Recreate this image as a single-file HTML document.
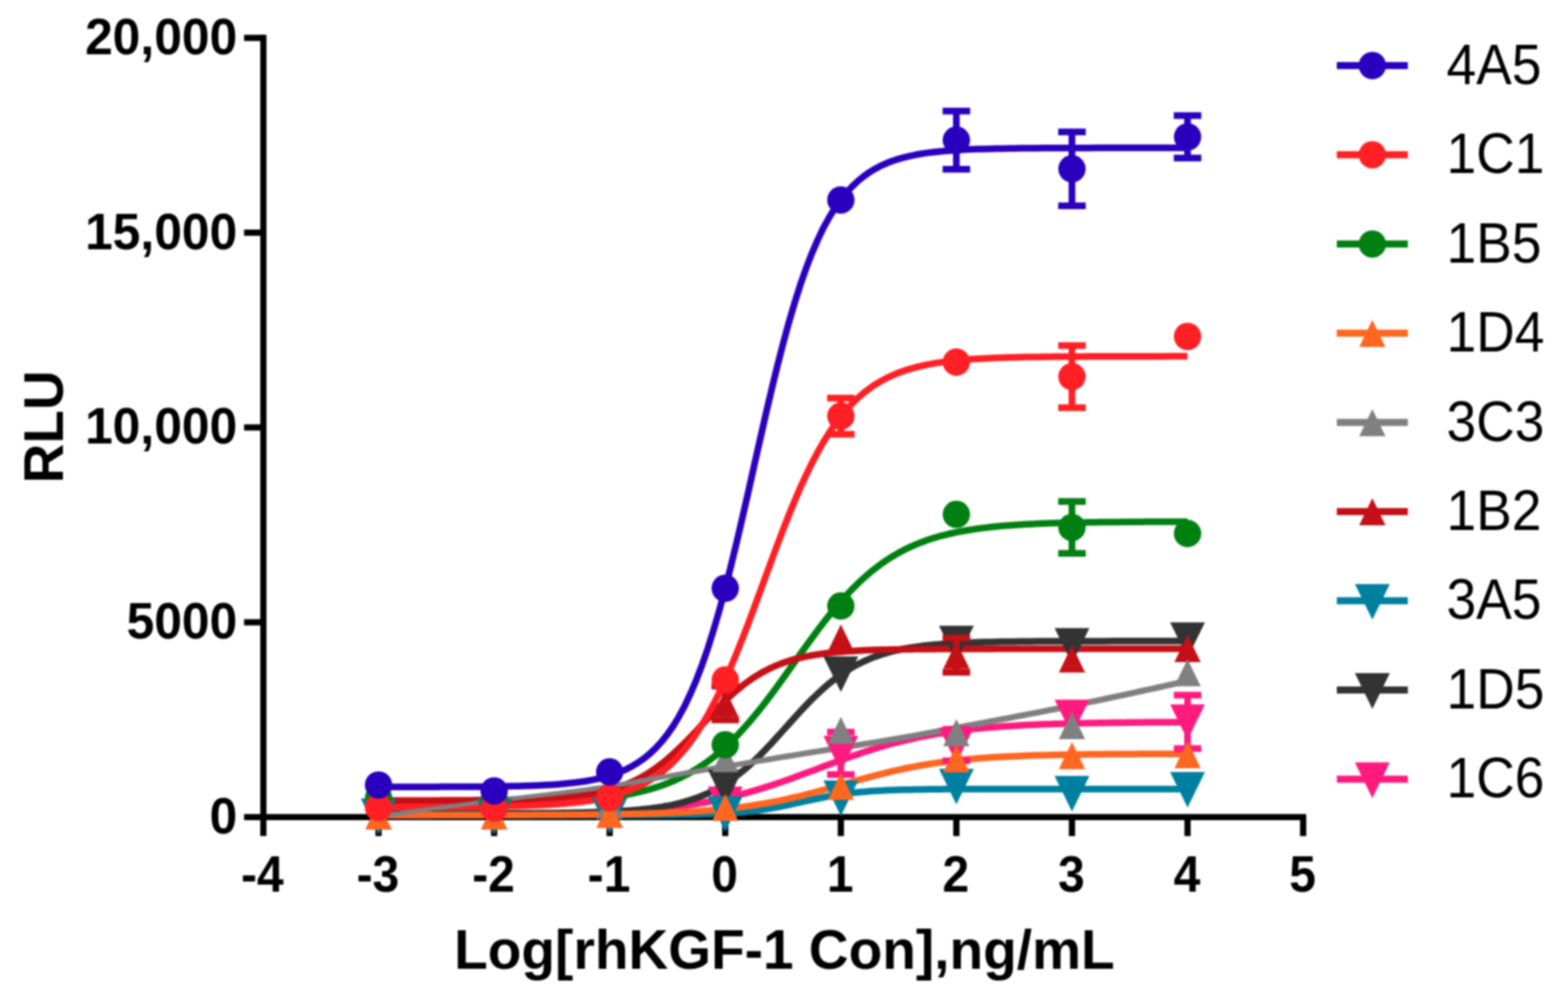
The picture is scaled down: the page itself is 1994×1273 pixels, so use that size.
<!DOCTYPE html>
<html lang="en">
<head>
<meta charset="utf-8">
<title>RLU vs Log[rhKGF-1 Con]</title>
<style>
html,body{margin:0;padding:0;background:#fff;}
body{width:1994px;height:1273px;overflow:hidden;}
svg{display:block;}
text{font-family:"Liberation Sans",sans-serif;fill:#000;}
.tick{font-weight:bold;font-size:64.3px;}
.title{font-weight:bold;font-size:70px;}
.leg{font-size:73px;}
</style>
</head>
<body>
<svg width="1994" height="1273" viewBox="0 0 1994 1273">
<defs><filter id="soft" x="0" y="0" width="1994" height="1273" filterUnits="userSpaceOnUse" color-interpolation-filters="sRGB"><feGaussianBlur stdDeviation="0.8"/></filter></defs>
<rect width="1994" height="1273" fill="#fff"/>
<g filter="url(#soft)">
<rect width="1994" height="1273" fill="#fff"/>

<g stroke="#000" stroke-width="7.9" fill="none" stroke-linecap="butt">
<path d="M334.9 44.2 V1063.3"/>
<path d="M310.4 1039.1 H1661"/>
<path d="M310.4 48.2 H334.9"/>
<path d="M310.4 295.9 H334.9"/>
<path d="M310.4 543.6 H334.9"/>
<path d="M310.4 791.4 H334.9"/>
<path d="M481.4 1039.1 V1063.3"/>
<path d="M628.4 1039.1 V1063.3"/>
<path d="M775.3 1039.1 V1063.3"/>
<path d="M922.3 1039.1 V1063.3"/>
<path d="M1069.3 1039.1 V1063.3"/>
<path d="M1216.2 1039.1 V1063.3"/>
<path d="M1363.2 1039.1 V1063.3"/>
<path d="M1510.2 1039.1 V1063.3"/>
<path d="M1657.2 1039.1 V1063.3"/>
</g>
<g class="tick" text-anchor="end">
<text transform="translate(301.8 69) scale(0.985 1)">20,000</text>
<text transform="translate(301.8 316.7) scale(0.985 1)">15,000</text>
<text transform="translate(301.8 564.4) scale(0.985 1)">10,000</text>
<text transform="translate(301.8 812.2) scale(0.985 1)">5000</text>
<text transform="translate(301.8 1059.9) scale(0.985 1)">0</text>
</g>
<g class="tick" text-anchor="middle">
<text transform="translate(333.6 1133.5) scale(0.95 1)">-4</text>
<text transform="translate(480.6 1133.5) scale(0.95 1)">-3</text>
<text transform="translate(627.6 1133.5) scale(0.95 1)">-2</text>
<text transform="translate(774.5 1133.5) scale(0.95 1)">-1</text>
<text transform="translate(921.5 1133.5) scale(0.95 1)">0</text>
<text transform="translate(1068.5 1133.5) scale(0.95 1)">1</text>
<text transform="translate(1215.4 1133.5) scale(0.95 1)">2</text>
<text transform="translate(1362.4 1133.5) scale(0.95 1)">3</text>
<text transform="translate(1509.4 1133.5) scale(0.95 1)">4</text>
<text transform="translate(1656.4 1133.5) scale(0.95 1)">5</text>
</g>
<text class="title" text-anchor="middle" x="997.5" y="1232.3">Log[rhKGF-1 Con],ng/mL</text>
<text class="title" text-anchor="middle" transform="translate(80.3 542.8) rotate(-90)">RLU</text>
<g fill="none" stroke-width="8.5" stroke-linejoin="round" stroke-linecap="butt">
<path stroke="#008011" d="M481.4 1022.9 L488.7 1022.9 L496.1 1022.9 L503.4 1022.9 L510.8 1022.9 L518.1 1022.8 L525.5 1022.8 L532.8 1022.8 L540.2 1022.8 L547.5 1022.7 L554.9 1022.7 L562.2 1022.7 L569.6 1022.6 L576.9 1022.6 L584.3 1022.5 L591.6 1022.5 L599 1022.4 L606.3 1022.4 L613.7 1022.3 L621 1022.2 L628.4 1022.1 L635.7 1022 L643.1 1021.9 L650.4 1021.7 L657.8 1021.6 L665.1 1021.4 L672.5 1021.2 L679.8 1021 L687.1 1020.7 L694.5 1020.4 L701.8 1020.1 L709.2 1019.8 L716.5 1019.4 L723.9 1019 L731.2 1018.5 L738.6 1017.9 L745.9 1017.3 L753.3 1016.6 L760.6 1015.9 L768 1015 L775.3 1014.1 L782.7 1013 L790 1011.9 L797.4 1010.5 L804.7 1009.1 L812.1 1007.4 L819.4 1005.6 L826.8 1003.6 L834.1 1001.4 L841.5 999 L848.8 996.2 L856.2 993.3 L863.5 990 L870.9 986.3 L878.2 982.4 L885.6 978 L892.9 973.3 L900.3 968.2 L907.6 962.6 L915 956.6 L922.3 950.1 L929.6 943.2 L937 935.8 L944.3 928 L951.7 919.7 L959 911.1 L966.4 902 L973.7 892.6 L981.1 882.9 L988.4 872.9 L995.8 862.7 L1003.1 852.5 L1010.5 842.1 L1017.8 831.8 L1025.2 821.5 L1032.5 811.4 L1039.9 801.5 L1047.2 791.8 L1054.6 782.5 L1061.9 773.5 L1069.3 764.9 L1076.6 756.7 L1084 749 L1091.3 741.7 L1098.7 734.9 L1106 728.5 L1113.4 722.6 L1120.7 717.1 L1128.1 712 L1135.4 707.4 L1142.8 703.1 L1150.1 699.2 L1157.5 695.7 L1164.8 692.4 L1172.1 689.5 L1179.5 686.8 L1186.8 684.4 L1194.2 682.2 L1201.5 680.3 L1208.9 678.5 L1216.2 676.9 L1223.6 675.5 L1230.9 674.2 L1238.3 673.1 L1245.6 672 L1253 671.1 L1260.3 670.3 L1267.7 669.5 L1275 668.8 L1282.4 668.3 L1289.7 667.7 L1297.1 667.2 L1304.4 666.8 L1311.8 666.4 L1319.1 666.1 L1326.5 665.8 L1333.8 665.5 L1341.2 665.3 L1348.5 665.1 L1355.9 664.9 L1363.2 664.7 L1370.6 664.6 L1377.9 664.4 L1385.3 664.3 L1392.6 664.2 L1400 664.1 L1407.3 664 L1414.6 663.9 L1422 663.9 L1429.3 663.8 L1436.7 663.7 L1444 663.7 L1451.4 663.7 L1458.7 663.6 L1466.1 663.6 L1473.4 663.6 L1480.8 663.5 L1488.1 663.5 L1495.5 663.5 L1502.8 663.5 L1510.2 663.4"/>
<path stroke="#ff1a80" d="M481.4 1037 L488.7 1037 L496.1 1037 L503.4 1037 L510.8 1036.9 L518.1 1036.9 L525.5 1036.9 L532.8 1036.9 L540.2 1036.9 L547.5 1036.9 L554.9 1036.8 L562.2 1036.8 L569.6 1036.8 L576.9 1036.7 L584.3 1036.7 L591.6 1036.7 L599 1036.6 L606.3 1036.6 L613.7 1036.5 L621 1036.5 L628.4 1036.4 L635.7 1036.4 L643.1 1036.3 L650.4 1036.2 L657.8 1036.1 L665.1 1036 L672.5 1035.9 L679.8 1035.8 L687.1 1035.7 L694.5 1035.6 L701.8 1035.4 L709.2 1035.3 L716.5 1035.1 L723.9 1034.9 L731.2 1034.7 L738.6 1034.5 L745.9 1034.3 L753.3 1034 L760.6 1033.7 L768 1033.4 L775.3 1033 L782.7 1032.6 L790 1032.2 L797.4 1031.8 L804.7 1031.3 L812.1 1030.7 L819.4 1030.2 L826.8 1029.5 L834.1 1028.9 L841.5 1028.1 L848.8 1027.3 L856.2 1026.4 L863.5 1025.5 L870.9 1024.5 L878.2 1023.4 L885.6 1022.3 L892.9 1021 L900.3 1019.7 L907.6 1018.3 L915 1016.7 L922.3 1015.1 L929.6 1013.4 L937 1011.6 L944.3 1009.7 L951.7 1007.7 L959 1005.6 L966.4 1003.4 L973.7 1001.1 L981.1 998.7 L988.4 996.3 L995.8 993.8 L1003.1 991.2 L1010.5 988.5 L1017.8 985.8 L1025.2 983.1 L1032.5 980.4 L1039.9 977.6 L1047.2 974.8 L1054.6 972.1 L1061.9 969.4 L1069.3 966.7 L1076.6 964 L1084 961.4 L1091.3 958.9 L1098.7 956.5 L1106 954.1 L1113.4 951.8 L1120.7 949.6 L1128.1 947.5 L1135.4 945.5 L1142.8 943.6 L1150.1 941.8 L1157.5 940 L1164.8 938.4 L1172.1 936.9 L1179.5 935.5 L1186.8 934.1 L1194.2 932.9 L1201.5 931.7 L1208.9 930.6 L1216.2 929.6 L1223.6 928.7 L1230.9 927.8 L1238.3 927 L1245.6 926.3 L1253 925.6 L1260.3 925 L1267.7 924.4 L1275 923.8 L1282.4 923.4 L1289.7 922.9 L1297.1 922.5 L1304.4 922.1 L1311.8 921.7 L1319.1 921.4 L1326.5 921.1 L1333.8 920.9 L1341.2 920.6 L1348.5 920.4 L1355.9 920.2 L1363.2 920 L1370.6 919.8 L1377.9 919.7 L1385.3 919.5 L1392.6 919.4 L1400 919.3 L1407.3 919.2 L1414.6 919.1 L1422 919 L1429.3 918.9 L1436.7 918.8 L1444 918.7 L1451.4 918.7 L1458.7 918.6 L1466.1 918.6 L1473.4 918.5 L1480.8 918.5 L1488.1 918.4 L1495.5 918.4 L1502.8 918.4 L1510.2 918.3"/>
<path stroke="#333333" d="M481.4 1034.5 L488.7 1034.5 L496.1 1034.5 L503.4 1034.5 L510.8 1034.5 L518.1 1034.5 L525.5 1034.5 L532.8 1034.5 L540.2 1034.5 L547.5 1034.5 L554.9 1034.5 L562.2 1034.5 L569.6 1034.5 L576.9 1034.5 L584.3 1034.5 L591.6 1034.4 L599 1034.4 L606.3 1034.4 L613.7 1034.4 L621 1034.4 L628.4 1034.4 L635.7 1034.4 L643.1 1034.3 L650.4 1034.3 L657.8 1034.3 L665.1 1034.3 L672.5 1034.2 L679.8 1034.2 L687.1 1034.1 L694.5 1034.1 L701.8 1034 L709.2 1033.9 L716.5 1033.8 L723.9 1033.7 L731.2 1033.6 L738.6 1033.4 L745.9 1033.3 L753.3 1033.1 L760.6 1032.8 L768 1032.6 L775.3 1032.2 L782.7 1031.9 L790 1031.5 L797.4 1031 L804.7 1030.4 L812.1 1029.8 L819.4 1029 L826.8 1028.2 L834.1 1027.2 L841.5 1026.1 L848.8 1024.8 L856.2 1023.3 L863.5 1021.6 L870.9 1019.6 L878.2 1017.4 L885.6 1014.9 L892.9 1012 L900.3 1008.8 L907.6 1005.2 L915 1001.2 L922.3 996.8 L929.6 991.9 L937 986.5 L944.3 980.7 L951.7 974.4 L959 967.6 L966.4 960.5 L973.7 953 L981.1 945.2 L988.4 937.2 L995.8 929 L1003.1 920.8 L1010.5 912.6 L1017.8 904.6 L1025.2 896.8 L1032.5 889.3 L1039.9 882.2 L1047.2 875.4 L1054.6 869.1 L1061.9 863.3 L1069.3 857.9 L1076.6 853 L1084 848.6 L1091.3 844.6 L1098.7 841 L1106 837.8 L1113.4 834.9 L1120.7 832.4 L1128.1 830.2 L1135.4 828.2 L1142.8 826.5 L1150.1 825 L1157.5 823.7 L1164.8 822.6 L1172.1 821.6 L1179.5 820.8 L1186.8 820 L1194.2 819.4 L1201.5 818.8 L1208.9 818.3 L1216.2 817.9 L1223.6 817.6 L1230.9 817.2 L1238.3 817 L1245.6 816.7 L1253 816.5 L1260.3 816.4 L1267.7 816.2 L1275 816.1 L1282.4 816 L1289.7 815.9 L1297.1 815.8 L1304.4 815.7 L1311.8 815.7 L1319.1 815.6 L1326.5 815.6 L1333.8 815.5 L1341.2 815.5 L1348.5 815.5 L1355.9 815.5 L1363.2 815.4 L1370.6 815.4 L1377.9 815.4 L1385.3 815.4 L1392.6 815.4 L1400 815.4 L1407.3 815.4 L1414.6 815.3 L1422 815.3 L1429.3 815.3 L1436.7 815.3 L1444 815.3 L1451.4 815.3 L1458.7 815.3 L1466.1 815.3 L1473.4 815.3 L1480.8 815.3 L1488.1 815.3 L1495.5 815.3 L1502.8 815.3 L1510.2 815.3"/>
<path stroke="#0080a0" d="M481.4 1036.6 L488.7 1036.6 L496.1 1036.6 L503.4 1036.6 L510.8 1036.6 L518.1 1036.6 L525.5 1036.6 L532.8 1036.6 L540.2 1036.6 L547.5 1036.6 L554.9 1036.6 L562.2 1036.6 L569.6 1036.6 L576.9 1036.6 L584.3 1036.6 L591.6 1036.6 L599 1036.6 L606.3 1036.6 L613.7 1036.6 L621 1036.6 L628.4 1036.6 L635.7 1036.6 L643.1 1036.6 L650.4 1036.6 L657.8 1036.6 L665.1 1036.6 L672.5 1036.6 L679.8 1036.6 L687.1 1036.6 L694.5 1036.6 L701.8 1036.6 L709.2 1036.6 L716.5 1036.6 L723.9 1036.6 L731.2 1036.6 L738.6 1036.6 L745.9 1036.6 L753.3 1036.6 L760.6 1036.6 L768 1036.6 L775.3 1036.6 L782.7 1036.6 L790 1036.5 L797.4 1036.5 L804.7 1036.5 L812.1 1036.5 L819.4 1036.5 L826.8 1036.4 L834.1 1036.4 L841.5 1036.3 L848.8 1036.3 L856.2 1036.2 L863.5 1036.1 L870.9 1036 L878.2 1035.9 L885.6 1035.7 L892.9 1035.6 L900.3 1035.3 L907.6 1035.1 L915 1034.7 L922.3 1034.4 L929.6 1033.9 L937 1033.4 L944.3 1032.7 L951.7 1032 L959 1031.2 L966.4 1030.2 L973.7 1029.1 L981.1 1027.9 L988.4 1026.5 L995.8 1025.1 L1003.1 1023.6 L1010.5 1021.9 L1017.8 1020.3 L1025.2 1018.7 L1032.5 1017 L1039.9 1015.5 L1047.2 1014 L1054.6 1012.6 L1061.9 1011.3 L1069.3 1010.2 L1076.6 1009.2 L1084 1008.3 L1091.3 1007.5 L1098.7 1006.9 L1106 1006.3 L1113.4 1005.8 L1120.7 1005.4 L1128.1 1005.1 L1135.4 1004.8 L1142.8 1004.5 L1150.1 1004.3 L1157.5 1004.2 L1164.8 1004 L1172.1 1003.9 L1179.5 1003.8 L1186.8 1003.8 L1194.2 1003.7 L1201.5 1003.6 L1208.9 1003.6 L1216.2 1003.6 L1223.6 1003.5 L1230.9 1003.5 L1238.3 1003.5 L1245.6 1003.5 L1253 1003.5 L1260.3 1003.4 L1267.7 1003.4 L1275 1003.4 L1282.4 1003.4 L1289.7 1003.4 L1297.1 1003.4 L1304.4 1003.4 L1311.8 1003.4 L1319.1 1003.4 L1326.5 1003.4 L1333.8 1003.4 L1341.2 1003.4 L1348.5 1003.4 L1355.9 1003.4 L1363.2 1003.4 L1370.6 1003.4 L1377.9 1003.4 L1385.3 1003.4 L1392.6 1003.4 L1400 1003.4 L1407.3 1003.4 L1414.6 1003.4 L1422 1003.4 L1429.3 1003.4 L1436.7 1003.4 L1444 1003.4 L1451.4 1003.4 L1458.7 1003.4 L1466.1 1003.4 L1473.4 1003.4 L1480.8 1003.4 L1488.1 1003.4 L1495.5 1003.4 L1502.8 1003.4 L1510.2 1003.4"/>
<path stroke="#c41016" d="M481.4 1017.9 L488.7 1017.9 L496.1 1017.9 L503.4 1017.9 L510.8 1017.9 L518.1 1017.9 L525.5 1017.9 L532.8 1017.9 L540.2 1017.9 L547.5 1017.9 L554.9 1017.9 L562.2 1017.8 L569.6 1017.8 L576.9 1017.8 L584.3 1017.8 L591.6 1017.7 L599 1017.7 L606.3 1017.6 L613.7 1017.6 L621 1017.5 L628.4 1017.4 L635.7 1017.3 L643.1 1017.2 L650.4 1017.1 L657.8 1016.9 L665.1 1016.7 L672.5 1016.5 L679.8 1016.3 L687.1 1016 L694.5 1015.6 L701.8 1015.2 L709.2 1014.7 L716.5 1014.2 L723.9 1013.5 L731.2 1012.7 L738.6 1011.8 L745.9 1010.8 L753.3 1009.6 L760.6 1008.2 L768 1006.5 L775.3 1004.7 L782.7 1002.5 L790 1000 L797.4 997.2 L804.7 994 L812.1 990.4 L819.4 986.3 L826.8 981.7 L834.1 976.7 L841.5 971.2 L848.8 965.2 L856.2 958.7 L863.5 951.8 L870.9 944.6 L878.2 937.1 L885.6 929.4 L892.9 921.5 L900.3 913.7 L907.6 906 L915 898.5 L922.3 891.2 L929.6 884.3 L937 877.9 L944.3 871.9 L951.7 866.4 L959 861.3 L966.4 856.8 L973.7 852.7 L981.1 849.1 L988.4 845.9 L995.8 843 L1003.1 840.6 L1010.5 838.4 L1017.8 836.5 L1025.2 834.9 L1032.5 833.5 L1039.9 832.3 L1047.2 831.2 L1054.6 830.3 L1061.9 829.6 L1069.3 828.9 L1076.6 828.3 L1084 827.9 L1091.3 827.5 L1098.7 827.1 L1106 826.8 L1113.4 826.6 L1120.7 826.3 L1128.1 826.2 L1135.4 826 L1142.8 825.9 L1150.1 825.7 L1157.5 825.7 L1164.8 825.6 L1172.1 825.5 L1179.5 825.4 L1186.8 825.4 L1194.2 825.3 L1201.5 825.3 L1208.9 825.3 L1216.2 825.3 L1223.6 825.2 L1230.9 825.2 L1238.3 825.2 L1245.6 825.2 L1253 825.2 L1260.3 825.2 L1267.7 825.1 L1275 825.1 L1282.4 825.1 L1289.7 825.1 L1297.1 825.1 L1304.4 825.1 L1311.8 825.1 L1319.1 825.1 L1326.5 825.1 L1333.8 825.1 L1341.2 825.1 L1348.5 825.1 L1355.9 825.1 L1363.2 825.1 L1370.6 825.1 L1377.9 825.1 L1385.3 825.1 L1392.6 825.1 L1400 825.1 L1407.3 825.1 L1414.6 825.1 L1422 825.1 L1429.3 825.1 L1436.7 825.1 L1444 825.1 L1451.4 825.1 L1458.7 825.1 L1466.1 825.1 L1473.4 825.1 L1480.8 825.1 L1488.1 825.1 L1495.5 825.1 L1502.8 825.1 L1510.2 825.1"/>
<path stroke="#ff6620" d="M481.4 1036.6 L488.7 1036.6 L496.1 1036.6 L503.4 1036.6 L510.8 1036.6 L518.1 1036.6 L525.5 1036.6 L532.8 1036.6 L540.2 1036.6 L547.5 1036.6 L554.9 1036.5 L562.2 1036.5 L569.6 1036.5 L576.9 1036.5 L584.3 1036.5 L591.6 1036.5 L599 1036.5 L606.3 1036.5 L613.7 1036.5 L621 1036.5 L628.4 1036.5 L635.7 1036.5 L643.1 1036.4 L650.4 1036.4 L657.8 1036.4 L665.1 1036.4 L672.5 1036.4 L679.8 1036.3 L687.1 1036.3 L694.5 1036.3 L701.8 1036.2 L709.2 1036.2 L716.5 1036.2 L723.9 1036.1 L731.2 1036.1 L738.6 1036 L745.9 1035.9 L753.3 1035.8 L760.6 1035.8 L768 1035.7 L775.3 1035.6 L782.7 1035.5 L790 1035.3 L797.4 1035.2 L804.7 1035 L812.1 1034.9 L819.4 1034.7 L826.8 1034.5 L834.1 1034.2 L841.5 1034 L848.8 1033.7 L856.2 1033.4 L863.5 1033 L870.9 1032.7 L878.2 1032.2 L885.6 1031.8 L892.9 1031.3 L900.3 1030.7 L907.6 1030.1 L915 1029.4 L922.3 1028.7 L929.6 1027.9 L937 1027.1 L944.3 1026.1 L951.7 1025.1 L959 1024 L966.4 1022.8 L973.7 1021.6 L981.1 1020.2 L988.4 1018.8 L995.8 1017.3 L1003.1 1015.7 L1010.5 1014 L1017.8 1012.3 L1025.2 1010.4 L1032.5 1008.5 L1039.9 1006.6 L1047.2 1004.6 L1054.6 1002.5 L1061.9 1000.5 L1069.3 998.4 L1076.6 996.3 L1084 994.2 L1091.3 992.2 L1098.7 990.1 L1106 988.1 L1113.4 986.2 L1120.7 984.3 L1128.1 982.5 L1135.4 980.7 L1142.8 979.1 L1150.1 977.5 L1157.5 976 L1164.8 974.6 L1172.1 973.3 L1179.5 972 L1186.8 970.9 L1194.2 969.8 L1201.5 968.8 L1208.9 967.9 L1216.2 967 L1223.6 966.3 L1230.9 965.5 L1238.3 964.9 L1245.6 964.3 L1253 963.7 L1260.3 963.2 L1267.7 962.8 L1275 962.4 L1282.4 962 L1289.7 961.7 L1297.1 961.4 L1304.4 961.1 L1311.8 960.8 L1319.1 960.6 L1326.5 960.4 L1333.8 960.2 L1341.2 960 L1348.5 959.9 L1355.9 959.7 L1363.2 959.6 L1370.6 959.5 L1377.9 959.4 L1385.3 959.3 L1392.6 959.2 L1400 959.2 L1407.3 959.1 L1414.6 959 L1422 959 L1429.3 958.9 L1436.7 958.9 L1444 958.9 L1451.4 958.8 L1458.7 958.8 L1466.1 958.8 L1473.4 958.7 L1480.8 958.7 L1488.1 958.7 L1495.5 958.7 L1502.8 958.7 L1510.2 958.7"/>
<path stroke="#ff2025" d="M481.4 1026.3 L488.7 1026.3 L496.1 1026.3 L503.4 1026.3 L510.8 1026.3 L518.1 1026.2 L525.5 1026.2 L532.8 1026.2 L540.2 1026.2 L547.5 1026.2 L554.9 1026.1 L562.2 1026.1 L569.6 1026.1 L576.9 1026 L584.3 1026 L591.6 1025.9 L599 1025.9 L606.3 1025.8 L613.7 1025.7 L621 1025.6 L628.4 1025.5 L635.7 1025.4 L643.1 1025.3 L650.4 1025.1 L657.8 1024.9 L665.1 1024.7 L672.5 1024.4 L679.8 1024.2 L687.1 1023.8 L694.5 1023.4 L701.8 1023 L709.2 1022.5 L716.5 1021.9 L723.9 1021.3 L731.2 1020.5 L738.6 1019.7 L745.9 1018.7 L753.3 1017.5 L760.6 1016.2 L768 1014.7 L775.3 1013 L782.7 1011.1 L790 1008.8 L797.4 1006.3 L804.7 1003.4 L812.1 1000.1 L819.4 996.4 L826.8 992.1 L834.1 987.3 L841.5 981.9 L848.8 975.8 L856.2 969 L863.5 961.3 L870.9 952.8 L878.2 943.3 L885.6 932.8 L892.9 921.3 L900.3 908.8 L907.6 895.1 L915 880.4 L922.3 864.6 L929.6 847.9 L937 830.2 L944.3 811.7 L951.7 792.6 L959 772.9 L966.4 753 L973.7 732.9 L981.1 712.9 L988.4 693.1 L995.8 673.8 L1003.1 655.1 L1010.5 637.2 L1017.8 620.1 L1025.2 604 L1032.5 588.9 L1039.9 574.9 L1047.2 562 L1054.6 550.2 L1061.9 539.4 L1069.3 529.6 L1076.6 520.8 L1084 512.9 L1091.3 505.8 L1098.7 499.4 L1106 493.8 L1113.4 488.8 L1120.7 484.4 L1128.1 480.5 L1135.4 477.1 L1142.8 474 L1150.1 471.4 L1157.5 469.1 L1164.8 467 L1172.1 465.3 L1179.5 463.7 L1186.8 462.3 L1194.2 461.1 L1201.5 460.1 L1208.9 459.2 L1216.2 458.4 L1223.6 457.7 L1230.9 457.1 L1238.3 456.6 L1245.6 456.2 L1253 455.8 L1260.3 455.4 L1267.7 455.1 L1275 454.9 L1282.4 454.6 L1289.7 454.4 L1297.1 454.3 L1304.4 454.1 L1311.8 454 L1319.1 453.9 L1326.5 453.8 L1333.8 453.7 L1341.2 453.6 L1348.5 453.5 L1355.9 453.5 L1363.2 453.4 L1370.6 453.4 L1377.9 453.4 L1385.3 453.3 L1392.6 453.3 L1400 453.3 L1407.3 453.3 L1414.6 453.2 L1422 453.2 L1429.3 453.2 L1436.7 453.2 L1444 453.2 L1451.4 453.2 L1458.7 453.2 L1466.1 453.2 L1473.4 453.2 L1480.8 453.2 L1488.1 453.1 L1495.5 453.1 L1502.8 453.1 L1510.2 453.1"/>
<path stroke="#2a00be" d="M481.4 1000.7 L488.7 1000.7 L496.1 1000.7 L503.4 1000.7 L510.8 1000.7 L518.1 1000.7 L525.5 1000.7 L532.8 1000.7 L540.2 1000.7 L547.5 1000.7 L554.9 1000.7 L562.2 1000.6 L569.6 1000.6 L576.9 1000.6 L584.3 1000.6 L591.6 1000.5 L599 1000.5 L606.3 1000.4 L613.7 1000.4 L621 1000.3 L628.4 1000.2 L635.7 1000.1 L643.1 1000 L650.4 999.8 L657.8 999.7 L665.1 999.5 L672.5 999.3 L679.8 999 L687.1 998.7 L694.5 998.3 L701.8 997.9 L709.2 997.4 L716.5 996.8 L723.9 996.1 L731.2 995.3 L738.6 994.3 L745.9 993.2 L753.3 991.9 L760.6 990.4 L768 988.6 L775.3 986.5 L782.7 984 L790 981.2 L797.4 977.8 L804.7 973.9 L812.1 969.4 L819.4 964.2 L826.8 958.1 L834.1 951.1 L841.5 943 L848.8 933.8 L856.2 923.2 L863.5 911.1 L870.9 897.4 L878.2 881.9 L885.6 864.6 L892.9 845.4 L900.3 824.1 L907.6 800.8 L915 775.4 L922.3 748.3 L929.6 719.4 L937 689 L944.3 657.5 L951.7 625.2 L959 592.5 L966.4 559.8 L973.7 527.5 L981.1 496.1 L988.4 465.9 L995.8 437.2 L1003.1 410.3 L1010.5 385.2 L1017.8 362.1 L1025.2 341.1 L1032.5 322.1 L1039.9 305 L1047.2 289.7 L1054.6 276.2 L1061.9 264.3 L1069.3 253.9 L1076.6 244.8 L1084 236.8 L1091.3 230 L1098.7 224 L1106 218.8 L1113.4 214.4 L1120.7 210.6 L1128.1 207.3 L1135.4 204.5 L1142.8 202.1 L1150.1 200.1 L1157.5 198.3 L1164.8 196.8 L1172.1 195.5 L1179.5 194.4 L1186.8 193.5 L1194.2 192.7 L1201.5 192 L1208.9 191.4 L1216.2 190.9 L1223.6 190.5 L1230.9 190.1 L1238.3 189.8 L1245.6 189.6 L1253 189.4 L1260.3 189.2 L1267.7 189 L1275 188.9 L1282.4 188.8 L1289.7 188.7 L1297.1 188.6 L1304.4 188.5 L1311.8 188.4 L1319.1 188.4 L1326.5 188.3 L1333.8 188.3 L1341.2 188.3 L1348.5 188.2 L1355.9 188.2 L1363.2 188.2 L1370.6 188.2 L1377.9 188.2 L1385.3 188.2 L1392.6 188.1 L1400 188.1 L1407.3 188.1 L1414.6 188.1 L1422 188.1 L1429.3 188.1 L1436.7 188.1 L1444 188.1 L1451.4 188.1 L1458.7 188.1 L1466.1 188.1 L1473.4 188.1 L1480.8 188.1 L1488.1 188.1 L1495.5 188.1 L1502.8 188.1 L1510.2 188.1"/>
<path fill="#808080" stroke="none" d="M481 1035.5 L488.3 1034.5 L495.7 1033.4 L503 1032.4 L510.4 1031.3 L517.7 1030.3 L525.1 1029.3 L532.4 1028.2 L539.8 1027.2 L547.2 1026.2 L554.5 1025.2 L561.9 1024.1 L569.2 1023.2 L576.6 1022.2 L583.9 1021.2 L591.3 1020.2 L598.6 1019.3 L606 1018.3 L613.3 1017.4 L620.7 1016.5 L628 1015.6 L635.4 1014.7 L642.7 1013.8 L650.1 1012.9 L657.4 1012.1 L664.8 1011.2 L672.1 1010.3 L679.5 1009.5 L686.8 1008.6 L694.2 1007.7 L701.5 1006.8 L708.9 1005.9 L716.2 1005 L723.5 1004.1 L730.9 1003.2 L738.2 1002.2 L745.5 1001.2 L752.9 1000.1 L760.2 999.1 L767.5 998 L774.9 996.8 L782.2 995.7 L789.5 994.4 L796.9 993.2 L804.2 991.9 L811.5 990.6 L818.9 989.3 L826.2 988 L833.6 986.6 L840.9 985.3 L848.3 984 L855.6 982.7 L863 981.4 L870.3 980.1 L877.7 978.8 L885 977.6 L892.4 976.3 L899.7 975.1 L907 973.8 L914.4 972.6 L921.7 971.4 L929.1 970.1 L936.4 968.9 L943.8 967.7 L951.1 966.4 L958.5 965.2 L965.8 964 L973.1 962.7 L980.5 961.5 L987.8 960.3 L995.2 959 L1002.5 957.8 L1009.9 956.7 L1017.2 955.5 L1024.6 954.3 L1031.9 953.1 L1039.3 952 L1046.6 950.8 L1054 949.6 L1061.3 948.5 L1068.7 947.3 L1076 946.2 L1083.4 945 L1090.7 943.8 L1098.1 942.6 L1105.4 941.5 L1112.8 940.3 L1120.1 939 L1127.4 937.8 L1134.8 936.6 L1142.1 935.3 L1149.4 934 L1156.8 932.7 L1164.1 931.4 L1171.5 930 L1178.8 928.7 L1186.2 927.3 L1193.5 925.9 L1200.8 924.5 L1208.2 923.2 L1215.5 921.8 L1222.9 920.4 L1230.2 919 L1237.6 917.7 L1244.9 916.3 L1252.3 914.9 L1259.6 913.5 L1267 912.2 L1274.3 910.8 L1281.7 909.4 L1289 908 L1296.4 906.6 L1303.7 905.2 L1311.1 903.8 L1318.4 902.4 L1325.7 901 L1333.1 899.6 L1340.4 898.1 L1347.8 896.7 L1355.1 895.2 L1362.5 893.7 L1369.8 892.2 L1377.1 890.7 L1384.5 889.2 L1391.8 887.7 L1399.2 886.2 L1406.5 884.6 L1413.8 883 L1421.2 881.5 L1428.5 879.9 L1435.9 878.3 L1443.2 876.7 L1450.6 875.1 L1457.9 873.5 L1465.3 871.9 L1472.6 870.3 L1480 868.7 L1487.3 867.1 L1494.6 865.4 L1502 863.8 L1509.3 862.2 L1511 869.8 L1503.7 871.4 L1496.3 873 L1489 874.7 L1481.6 876.3 L1474.3 877.9 L1466.9 879.5 L1459.6 881.1 L1452.2 882.7 L1444.9 884.3 L1437.5 885.9 L1430.2 887.5 L1422.8 889 L1415.5 890.6 L1408.1 892.2 L1400.7 893.7 L1393.4 895.2 L1386 896.8 L1378.7 898.3 L1371.3 899.8 L1364 901.3 L1356.6 902.7 L1349.3 904.2 L1341.9 905.7 L1334.5 907.1 L1327.2 908.5 L1319.8 909.9 L1312.5 911.3 L1305.1 912.7 L1297.8 914.1 L1290.4 915.5 L1283.1 916.9 L1275.7 918.3 L1268.4 919.6 L1261 921 L1253.7 922.4 L1246.3 923.8 L1239 925.1 L1231.6 926.5 L1224.3 927.9 L1216.9 929.2 L1209.6 930.6 L1202.2 932 L1194.9 933.3 L1187.5 934.7 L1180.2 936.1 L1172.8 937.4 L1165.5 938.8 L1158.1 940.1 L1150.8 941.4 L1143.4 942.7 L1136 944 L1128.7 945.2 L1121.3 946.4 L1114 947.6 L1106.6 948.8 L1099.3 950 L1091.9 951.2 L1084.6 952.4 L1077.2 953.5 L1069.9 954.7 L1062.5 955.8 L1055.2 957 L1047.8 958.2 L1040.5 959.3 L1033.1 960.5 L1025.8 961.6 L1018.4 962.8 L1011.1 964 L1003.7 965.2 L996.4 966.3 L989 967.5 L981.7 968.7 L974.3 969.9 L967 971.1 L959.6 972.3 L952.3 973.5 L944.9 974.6 L937.6 975.8 L930.2 977 L922.9 978.2 L915.5 979.4 L908.2 980.6 L900.8 981.8 L893.5 983 L886.1 984.2 L878.8 985.4 L871.4 986.6 L864.1 987.8 L856.7 989.1 L849.4 990.3 L842 991.6 L834.7 992.9 L827.3 994.2 L820 995.5 L812.6 996.7 L805.3 998 L797.9 999.2 L790.5 1000.4 L783.2 1001.6 L775.8 1002.8 L768.4 1003.9 L761.1 1004.9 L753.7 1006 L746.3 1007 L739 1007.9 L731.6 1008.9 L724.2 1009.8 L716.9 1010.7 L709.5 1011.5 L702.2 1012.4 L694.8 1013.3 L687.5 1014.1 L680.1 1014.9 L672.8 1015.7 L665.4 1016.6 L658.1 1017.4 L650.7 1018.2 L643.4 1019.1 L636 1019.9 L628.7 1020.8 L621.3 1021.7 L614 1022.6 L606.6 1023.6 L599.3 1024.5 L592 1025.5 L584.6 1026.5 L577.3 1027.5 L569.9 1028.5 L562.6 1029.5 L555.2 1030.5 L547.9 1031.5 L540.6 1032.6 L533.2 1033.6 L525.9 1034.7 L518.5 1035.7 L511.2 1036.8 L503.8 1037.9 L496.5 1038.9 L489.1 1040 L481.8 1041.1 Z"/>
</g>
<g fill="#ff1a80" stroke="#ff1a80" stroke-width="8.5" stroke-linecap="butt">
<path d="M1069.3 931 V985 M1051.8 931 H1086.8 M1051.8 985 H1086.8"/>
<path d="M1216.2 927.5 V967.5 M1198.7 927.5 H1233.7 M1198.7 967.5 H1233.7"/>
<path d="M1510.2 884 V952 M1492.7 884 H1527.7 M1492.7 952 H1527.7"/>
</g>
<g fill="#ff1a80">
<path d="M459.2 1015.8 L503.5 1015.8 L481.4 1061 Z"/>
<path d="M606.2 1015.8 L650.5 1015.8 L628.4 1061 Z"/>
<path d="M753.2 1014.8 L797.5 1014.8 L775.3 1060 Z"/>
<path d="M900.1 1000.2 L944.4 1000.2 L922.3 1045.5 Z"/>
<path d="M1047.1 935.8 L1091.4 935.8 L1069.3 981 Z"/>
<path d="M1194.1 925.2 L1238.4 925.2 L1216.2 970.5 Z"/>
<path d="M1341.1 889.8 L1385.4 889.8 L1363.2 935 Z"/>
<path d="M1488 895.8 L1532.3 895.8 L1510.2 941 Z"/>
</g>
<g fill="#333333" stroke="#333333" stroke-width="8.5" stroke-linecap="butt">
</g>
<g fill="#333333">
<path d="M459.2 1015.8 L503.5 1015.8 L481.4 1061 Z"/>
<path d="M606.2 1015.8 L650.5 1015.8 L628.4 1061 Z"/>
<path d="M753.2 1014.8 L797.5 1014.8 L775.3 1060 Z"/>
<path d="M900.1 978.8 L944.4 978.8 L922.3 1024 Z"/>
<path d="M1047.1 834.8 L1091.4 834.8 L1069.3 880 Z"/>
<path d="M1194.1 795.8 L1238.4 795.8 L1216.2 841 Z"/>
<path d="M1341.1 798.8 L1385.4 798.8 L1363.2 844 Z"/>
<path d="M1488 791.4 L1532.3 791.4 L1510.2 836.6 Z"/>
</g>
<g fill="#0080a0" stroke="#0080a0" stroke-width="8.5" stroke-linecap="butt">
</g>
<g fill="#0080a0">
<path d="M459.2 1015.8 L503.5 1015.8 L481.4 1061 Z"/>
<path d="M606.2 1015.8 L650.5 1015.8 L628.4 1061 Z"/>
<path d="M753.2 1014.8 L797.5 1014.8 L775.3 1060 Z"/>
<path d="M900.1 1012.5 L944.4 1012.5 L922.3 1057.8 Z"/>
<path d="M1047.1 992.4 L1091.4 992.4 L1069.3 1037.7 Z"/>
<path d="M1194.1 977.8 L1238.4 977.8 L1216.2 1023 Z"/>
<path d="M1341.1 986.8 L1385.4 986.8 L1363.2 1032 Z"/>
<path d="M1488 981.8 L1532.3 981.8 L1510.2 1027 Z"/>
</g>
<g fill="#c41016" stroke="#c41016" stroke-width="8.5" stroke-linecap="butt">
<path d="M922.3 872.5 V915.5 M904.8 872.5 H939.8 M904.8 915.5 H939.8"/>
<path d="M1216.2 811.4 V855 M1198.7 811.4 H1233.7 M1198.7 855 H1233.7"/>
</g>
<g fill="#c41016">
<path d="M481.4 1020.5 L498.1 1055 L464.7 1055 Z"/>
<path d="M628.4 1020.5 L645.1 1055 L611.7 1055 Z"/>
<path d="M775.3 1018.5 L792 1053 L758.6 1053 Z"/>
<path d="M922.3 876.8 L939 911.2 L905.6 911.2 Z"/>
<path d="M1069.3 794 L1086 828.5 L1052.6 828.5 Z"/>
<path d="M1216.2 816 L1232.9 850.5 L1199.5 850.5 Z"/>
<path d="M1363.2 820.8 L1379.9 855.2 L1346.5 855.2 Z"/>
<path d="M1510.2 807.5 L1526.9 842 L1493.5 842 Z"/>
</g>
<g fill="#808080" stroke="#808080" stroke-width="8.5" stroke-linecap="butt">
</g>
<g fill="#808080">
<path d="M481.4 1020.5 L498.1 1055 L464.7 1055 Z"/>
<path d="M628.4 1020.5 L645.1 1055 L611.7 1055 Z"/>
<path d="M775.3 1007.2 L792 1041.8 L758.6 1041.8 Z"/>
<path d="M922.3 947.4 L939 981.9 L905.6 981.9 Z"/>
<path d="M1069.3 911.4 L1086 945.9 L1052.6 945.9 Z"/>
<path d="M1216.2 914.6 L1232.9 949.1 L1199.5 949.1 Z"/>
<path d="M1363.2 905.5 L1379.9 940 L1346.5 940 Z"/>
<path d="M1510.2 838.2 L1526.9 872.8 L1493.5 872.8 Z"/>
</g>
<g fill="#ff6620" stroke="#ff6620" stroke-width="8.5" stroke-linecap="butt">
</g>
<g fill="#ff6620">
<path d="M481.4 1020.5 L498.1 1055 L464.7 1055 Z"/>
<path d="M628.4 1020.5 L645.1 1055 L611.7 1055 Z"/>
<path d="M775.3 1018.5 L792 1053 L758.6 1053 Z"/>
<path d="M922.3 1009.5 L939 1044 L905.6 1044 Z"/>
<path d="M1069.3 982.8 L1086 1017.2 L1052.6 1017.2 Z"/>
<path d="M1216.2 947.8 L1232.9 982.2 L1199.5 982.2 Z"/>
<path d="M1363.2 943.8 L1379.9 978.2 L1346.5 978.2 Z"/>
<path d="M1510.2 942.5 L1526.9 977 L1493.5 977 Z"/>
</g>
<g fill="#008011" stroke="#008011" stroke-width="8.5" stroke-linecap="butt">
<path d="M1363.2 637.8 V703.8 M1345.7 637.8 H1380.7 M1345.7 703.8 H1380.7"/>
</g>
<g fill="#008011">
<circle cx="481.4" cy="1015" r="17.4"/>
<circle cx="628.4" cy="1018" r="17.4"/>
<circle cx="775.3" cy="1014.3" r="17.4"/>
<circle cx="922.3" cy="947.2" r="17.4"/>
<circle cx="1069.3" cy="770.7" r="17.4"/>
<circle cx="1216.2" cy="654.2" r="17.4"/>
<circle cx="1363.2" cy="670.8" r="17.4"/>
<circle cx="1510.2" cy="678.5" r="17.4"/>
</g>
<g fill="#ff2025" stroke="#ff2025" stroke-width="8.5" stroke-linecap="butt">
<path d="M1069.3 506.2 V552.2 M1051.8 506.2 H1086.8 M1051.8 552.2 H1086.8"/>
<path d="M1363.2 439.5 V518.5 M1345.7 439.5 H1380.7 M1345.7 518.5 H1380.7"/>
</g>
<g fill="#ff2025">
<circle cx="481.4" cy="1027" r="17.4"/>
<circle cx="628.4" cy="1027.8" r="17.4"/>
<circle cx="775.3" cy="1014.3" r="17.4"/>
<circle cx="922.3" cy="864.7" r="17.4"/>
<circle cx="1069.3" cy="529.2" r="17.4"/>
<circle cx="1216.2" cy="460.5" r="17.4"/>
<circle cx="1363.2" cy="479" r="17.4"/>
<circle cx="1510.2" cy="427.9" r="17.4"/>
</g>
<g fill="#2a00be" stroke="#2a00be" stroke-width="8.5" stroke-linecap="butt">
<path d="M1216.2 141.2 V215.2 M1198.7 141.2 H1233.7 M1198.7 215.2 H1233.7"/>
<path d="M1363.2 167.7 V261.7 M1345.7 167.7 H1380.7 M1345.7 261.7 H1380.7"/>
<path d="M1510.2 147.1 V201.1 M1492.7 147.1 H1527.7 M1492.7 201.1 H1527.7"/>
</g>
<g fill="#2a00be">
<circle cx="481.4" cy="998.3" r="17.4"/>
<circle cx="628.4" cy="1005.8" r="17.4"/>
<circle cx="775.3" cy="981.7" r="17.4"/>
<circle cx="922.3" cy="748.1" r="17.4"/>
<circle cx="1069.3" cy="254.3" r="17.4"/>
<circle cx="1216.2" cy="178.2" r="17.4"/>
<circle cx="1363.2" cy="214.7" r="17.4"/>
<circle cx="1510.2" cy="174.1" r="17.4"/>
</g>
<g fill="#2a00be" stroke="none">
<rect x="1700" y="78.9" width="90.3" height="9.0"/>
<circle cx="1745.2" cy="83.4" r="17.4"/>
</g>
<text class="leg" transform="translate(1839.5 106.8) scale(0.93 1)">4A5</text>
<g fill="#ff2025" stroke="none">
<rect x="1700" y="192.3" width="90.3" height="9.0"/>
<circle cx="1745.2" cy="196.8" r="17.4"/>
</g>
<text class="leg" transform="translate(1839.5 220.2) scale(0.93 1)">1C1</text>
<g fill="#008011" stroke="none">
<rect x="1700" y="305.8" width="90.3" height="9.0"/>
<circle cx="1745.2" cy="310.3" r="17.4"/>
</g>
<text class="leg" transform="translate(1839.5 333.7) scale(0.93 1)">1B5</text>
<g fill="#ff6620" stroke="none">
<rect x="1700" y="419.2" width="90.3" height="9.0"/>
<path d="M1745.2 406.8 L1761.9 441.3 L1728.5 441.3 Z"/>
</g>
<text class="leg" transform="translate(1839.5 447.1) scale(0.93 1)">1D4</text>
<g fill="#808080" stroke="none">
<rect x="1700" y="532.7" width="90.3" height="9.0"/>
<path d="M1745.2 520.2 L1761.9 554.7 L1728.5 554.7 Z"/>
</g>
<text class="leg" transform="translate(1839.5 560.6) scale(0.93 1)">3C3</text>
<g fill="#c41016" stroke="none">
<rect x="1700" y="646.1" width="90.3" height="9.0"/>
<path d="M1745.2 633.6 L1761.9 668.1 L1728.5 668.1 Z"/>
</g>
<text class="leg" transform="translate(1839.5 674) scale(0.93 1)">1B2</text>
<g fill="#0080a0" stroke="none">
<rect x="1700" y="759.5" width="90.3" height="9.0"/>
<path d="M1723 742.7 L1767.4 742.7 L1745.2 788 Z"/>
</g>
<text class="leg" transform="translate(1839.5 787.4) scale(0.93 1)">3A5</text>
<g fill="#333333" stroke="none">
<rect x="1700" y="873" width="90.3" height="9.0"/>
<path d="M1723 856.1 L1767.4 856.1 L1745.2 901.4 Z"/>
</g>
<text class="leg" transform="translate(1839.5 900.9) scale(0.93 1)">1D5</text>
<g fill="#ff1a80" stroke="none">
<rect x="1700" y="986.4" width="90.3" height="9.0"/>
<path d="M1723 969.6 L1767.4 969.6 L1745.2 1014.9 Z"/>
</g>
<text class="leg" transform="translate(1839.5 1014.3) scale(0.93 1)">1C6</text>
</g>
</svg>
</body>
</html>
